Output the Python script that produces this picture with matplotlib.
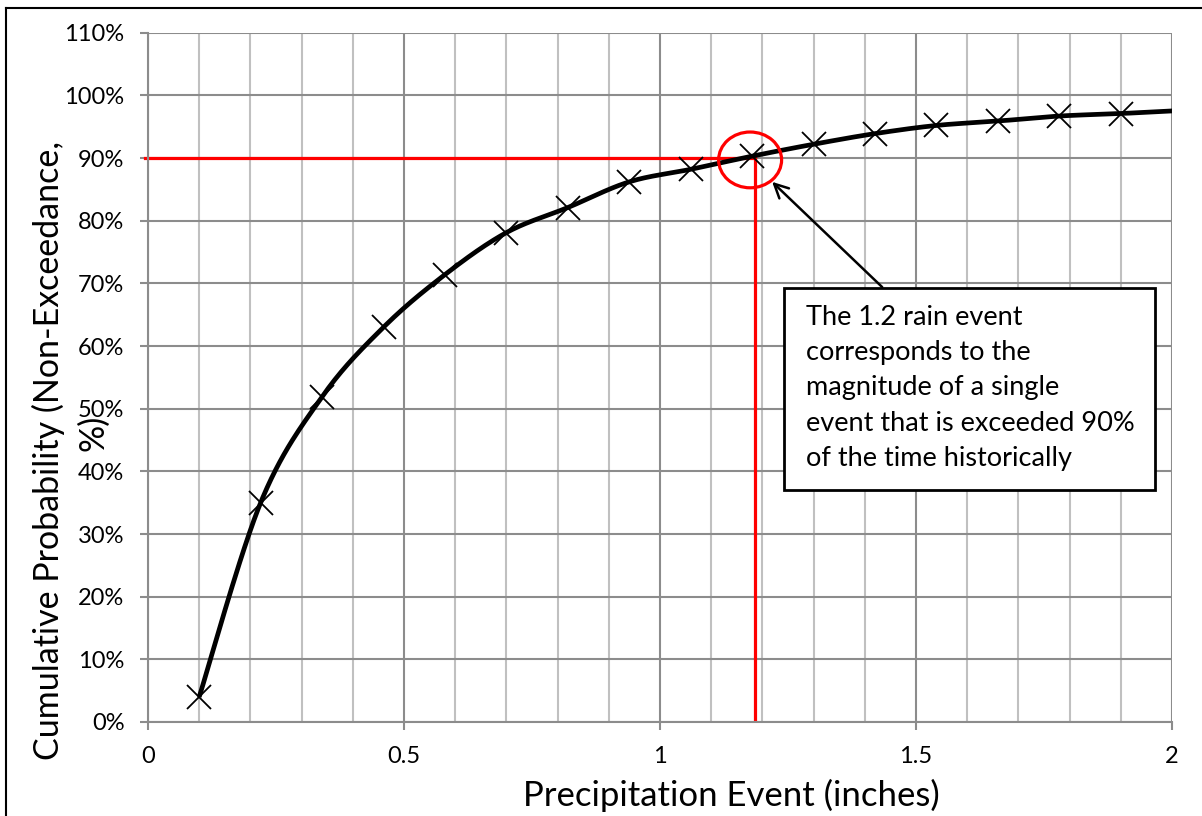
import numpy as np
import matplotlib
matplotlib.use("Agg")
import matplotlib.pyplot as plt
from matplotlib.patches import Ellipse, Rectangle
from matplotlib.ticker import MultipleLocator, FuncFormatter

plt.rcParams['font.family'] = ['Lato', 'DejaVu Sans']

# ---- data ----
precip = [0.10, 0.22, 0.34, 0.46, 0.58, 0.70, 0.82, 0.94, 1.06, 1.18,
          1.30, 1.42, 1.54, 1.66, 1.78, 1.90]
cum_prob = [4.0, 35.0, 51.9, 63.0, 71.4, 78.1, 82.1, 86.2, 88.2, 90.3,
            92.2, 93.9, 95.2, 95.9, 96.7, 97.1]
# continuation of the smoothed line past the plotted range (clipped)
line_x_extra = [2.02]
line_y_extra = [97.6]
x_ticks = [0, 0.5, 1, 1.5, 2]
x_tick_labels = ['0', '0.5', '1', '1.5', '2']
y_ticks = list(range(0, 111, 10))
target_x = 1.186
target_y = 90
annotation_text = ("The 1.2 rain event\ncorresponds to the\nmagnitude of a single\n"
                   "event that is exceeded 90%\nof the time historically")
ylabel_line1 = 'Cumulative Probability (Non-Exceedance,'
ylabel_line2 = '%)'


def catmull_rom(xs, ys, n=30):
    xs = np.asarray(xs, float)
    ys = np.asarray(ys, float)
    P = np.column_stack([xs, ys])
    out = []
    for i in range(len(P) - 1):
        p0 = P[i - 1] if i > 0 else P[i]
        p1 = P[i]
        p2 = P[i + 1]
        p3 = P[i + 2] if i + 2 < len(P) else P[i + 1]
        c1 = p1 + (p2 - p0) / 6.0
        c2 = p2 - (p3 - p1) / 6.0
        t = np.linspace(0, 1, n)[:, None]
        seg = ((1 - t) ** 3) * p1 + 3 * ((1 - t) ** 2) * t * c1 + 3 * (1 - t) * t ** 2 * c2 + t ** 3 * p2
        out.append(seg if i == 0 else seg[1:])
    S = np.vstack(out)
    return S[:, 0], S[:, 1]


W, H = 1202, 816
fig = plt.figure(figsize=(W / 100, H / 100), dpi=100)
x0, x1 = 148, 1172
y0, y1 = 722, 32.7
ax = fig.add_axes([x0 / W, (H - y0) / H, (x1 - x0) / W, (y0 - y1) / H])

ax.set_xlim(0, 2)
ax.set_ylim(0, 110)

# grid
ax.xaxis.set_minor_locator(MultipleLocator(0.1))
ax.set_xticks(x_ticks)
ax.set_xticklabels(x_tick_labels)
ax.set_yticks(y_ticks)
ax.yaxis.set_major_formatter(FuncFormatter(lambda v, p: f"{v:.0f}%"))
ax.grid(which='minor', axis='x', color='#C0C0C0', linewidth=1.5)
ax.grid(which='major', axis='x', color='#8C8C8C', linewidth=1.5)
ax.grid(which='major', axis='y', color='#8C8C8C', linewidth=1.5)
ax.set_axisbelow(True)
for s in ['top', 'right']:
    ax.spines[s].set_visible(False)
for s in ['left', 'bottom']:
    ax.spines[s].set_color('#8C8C8C')
    ax.spines[s].set_linewidth(1.5)
ax.tick_params(which='major', length=6, width=1.5, color='#8C8C8C',
               labelsize=17)
ax.tick_params(which='minor', length=0)
ax.tick_params(axis='x', pad=11)
ax.tick_params(axis='y', pad=11)

# smoothed line
sx, sy = catmull_rom(precip + line_x_extra, cum_prob + line_y_extra)
ax.plot(sx, sy, color='black', linewidth=3.4, solid_capstyle='butt', zorder=3)
ax.plot(precip, cum_prob, linestyle='none', marker='x', markersize=17,
        markeredgewidth=1.3, color='black', zorder=4)

# red guide lines
ax.plot([-0.005, target_x], [target_y, target_y], color='#FF0000', linewidth=2.3,
        zorder=2.5, clip_on=False)
ax.plot([target_x, target_x], [0, target_y], color='#FF0000', linewidth=2.3, zorder=2.5)
ax.add_patch(Ellipse((1.176, 89.7), 0.123, 8.9, fill=False, edgecolor='#FF0000',
                     linewidth=2.3, zorder=5))

# annotation box and arrow
ax.annotate('', xy=(1.219, 86.2), xytext=(1.434, 69.4),
            arrowprops=dict(arrowstyle='->,head_length=1.0,head_width=0.5',
                            color='black', linewidth=1.8, shrinkA=0, shrinkB=0),
            zorder=6)
ax.add_patch(Rectangle((1.242, 37.0), 0.725, 32.3, facecolor='white',
                       edgecolor='black', linewidth=2, zorder=7))
ax.text(1.285, 66.6, annotation_text, fontsize=19.5, va='top', ha='left',
        linespacing=1.52, zorder=8)

# axis labels
ax.set_xlabel('Precipitation Event (inches)', fontsize=25)
ax.xaxis.set_label_coords((731 - x0) / (x1 - x0), -0.082)
ax.xaxis.label.set_va('top')
fig.text(48 / W, 1 - 450 / H, ylabel_line1, rotation=90, rotation_mode='anchor',
         ha='center', va='center', fontsize=24.5)
fig.text(93 / W, 1 - 433 / H, ylabel_line2, rotation=90, rotation_mode='anchor',
         ha='center', va='center', fontsize=24.5)

# outer frame (left/top)
fig.add_artist(plt.Line2D([6 / W, 6 / W], [0, 1 - 8 / H], color='black', linewidth=1.5,
                          transform=fig.transFigure))
fig.add_artist(plt.Line2D([6 / W, 1], [1 - 8 / H, 1 - 8 / H], color='black', linewidth=1.5,
                          transform=fig.transFigure))

fig.savefig('out.png', dpi=100)
